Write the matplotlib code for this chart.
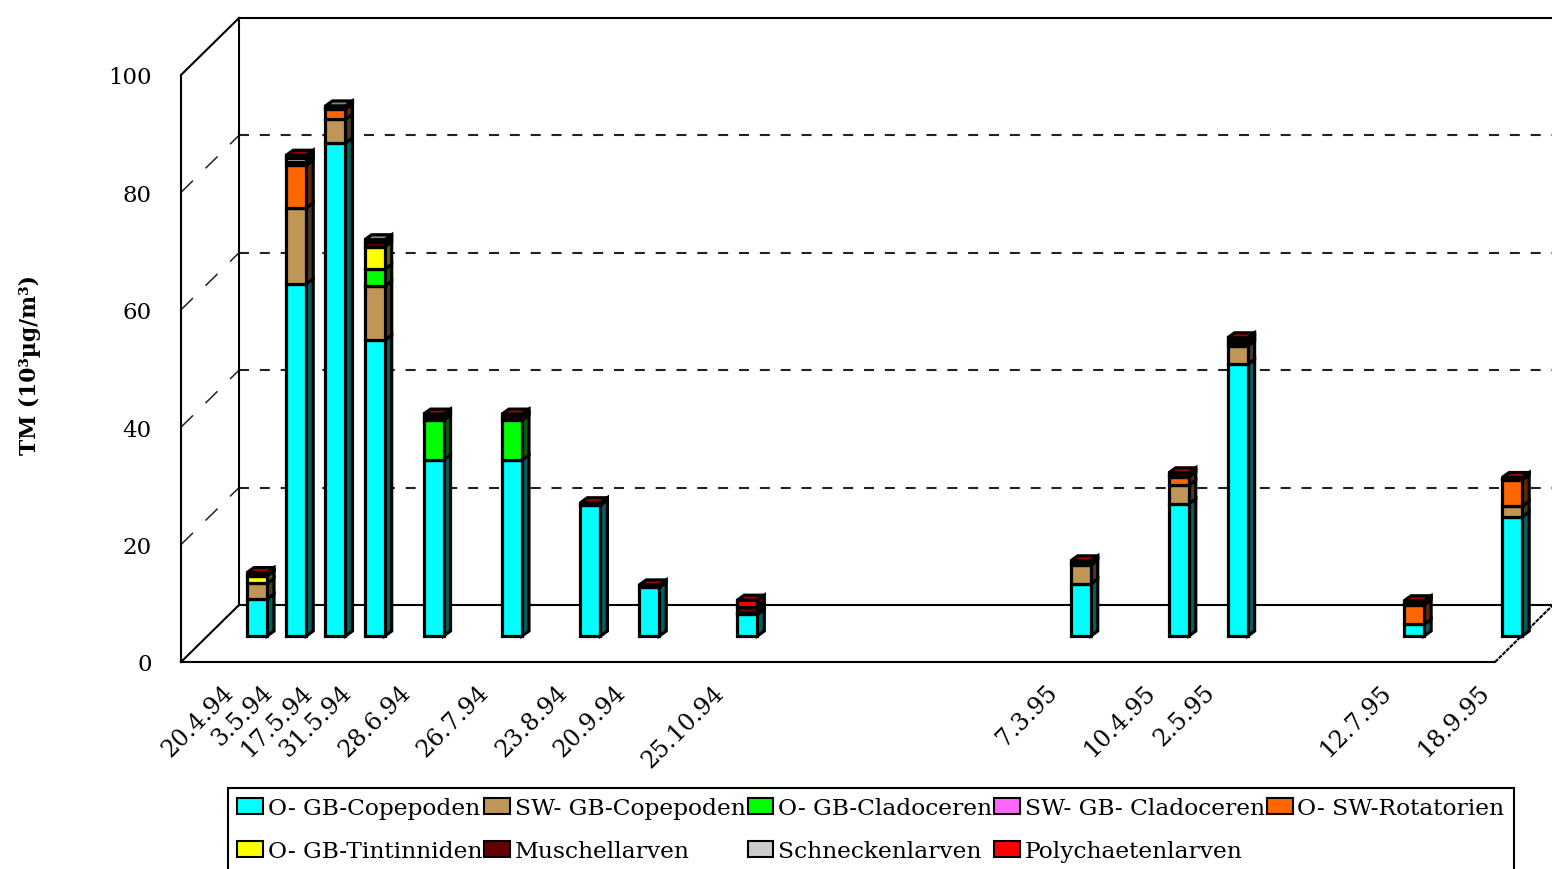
import numpy as np
import matplotlib
matplotlib.use("Agg")
import matplotlib.pyplot as plt
from matplotlib.colors import to_rgb
from matplotlib.patches import Patch, Polygon
from matplotlib.transforms import Affine2D

plt.rcParams["font.family"] = ["DejaVu Serif"]

# sampling dates, placed on the slots of the chart's category axis
dates = ["20.4.94", "3.5.94", "17.5.94", "31.5.94", "28.6.94", "26.7.94", "23.8.94",
         "20.9.94", "25.10.94", "7.3.95", "10.4.95", "2.5.95", "12.7.95", "18.9.95"]
slots = [2, 4, 6, 8, 11, 15, 19, 22, 27, 44, 49, 52, 61, 66]
n_slots = 67

names = ["O- GB-Copepoden", "SW- GB-Copepoden", "O- GB-Cladoceren", "SW- GB- Cladoceren",
         "O- SW-Rotatorien", "O- GB-Tintinniden", "Muschellarven", "Schneckenlarven",
         "Polychaetenlarven"]
colors = ["#00FFFF", "#BF9655", "#00FF00", "#FF66FF", "#FF6600", "#FFFF00", "#660000",
          "#CCCCCC", "#FF0000"]

o_copepoden = [6.3, 60, 84, 50.4, 30, 30, 22.3, 8.3, 3.7, 8.9, 22.5, 46.3, 2, 20.3]
sw_copepoden = [2.7, 12.9, 4, 9.2, 0, 0, 0, 0, 0.3, 3.2, 3.2, 3.1, 0, 1.8]
o_cladoceren = [0, 0, 0, 2.9, 6.8, 6.8, 0, 0, 0, 0, 0, 0, 0, 0]
sw_cladoceren = [0, 0, 0, 0, 0, 0, 0, 0, 0, 0, 0, 0, 0, 0]
rotatorien = [0, 7.3, 1.8, 0, 0, 0, 0, 0, 0, 0, 1.4, 0, 3.3, 4.5]
tintinniden = [1.2, 0, 0, 3.8, 0, 0, 0, 0, 0, 0, 0, 0, 0, 0]
muschel = [0.2, 0.6, 0.3, 0.8, 0.5, 0.5, 0, 0, 1.0, 0.4, 0.4, 0.5, 0.4, 0.2]
schnecken = [0, 0.6, 0.2, 0.4, 0, 0, 0, 0, 0, 0, 0, 0.5, 0, 0]
polychaeten = [0.4, 0.5, 0, 0, 0.5, 0.5, 0.4, 0.4, 1.1, 0.3, 0.3, 0.4, 0.3, 0.2]
series = [o_copepoden, sw_copepoden, o_cladoceren, sw_cladoceren, rotatorien,
          tintinniden, muschel, schnecken, polychaeten]

W, H = 1552, 870
WALL = 58     # depth of the fake 3d box, px
ROW = 26      # how far the bars sit behind the front plane, px
DEPTH_X = 7   # depth of one bar, px
DEPTH_Y = 5
LW = 2.3

fig = plt.figure(figsize=(W / 100, H / 100), dpi=100)
ax = fig.add_axes([181 / W, 1 - 663 / H, 1314 / W, 587 / H])
ax.set_xlim(0, n_slots)
ax.set_ylim(0, 100)
ax.patch.set_alpha(0)
for s in ["top", "right"]:
    ax.spines[s].set_visible(False)
for s in ["left", "bottom"]:
    ax.spines[s].set_linewidth(1.5)


def shifted(dx, dy):
    return ax.transData + Affine2D().translate(dx, dy)


def box_face(x0, x1, y0, y1, off0, off1, side):
    # side face goes up the depth at x1, top face along y1
    t = ax.transData
    if side:
        a, b = t.transform([(x1, y0), (x1, y1)])
        pts = [a + off0, a + off1, b + off1, b + off0]
    else:
        a, b = t.transform([(x0, y1), (x1, y1)])
        pts = [a + off0, b + off0, b + off1, a + off1]
    return pts


# walls and floor
back = shifted(WALL, WALL - 1)
ax.plot([0, n_slots], [100, 100], color="black", lw=1.5, transform=back, clip_on=False)
ax.plot([0, n_slots], [0, 0], color="black", lw=1.5, transform=back, clip_on=False, zorder=1)
ax.plot([0, 0], [0, 100], color="black", lw=1.5, transform=back, clip_on=False)
for v in [20, 40, 60, 80]:
    ax.plot([0, n_slots], [v, v], color="#222222", lw=1.5, dashes=(4.8, 5.2),
            transform=back, clip_on=False, zorder=1)
    a = ax.transData.transform((0, v))
    ax.plot([a[0], a[0] + WALL], [a[1], a[1] + WALL - 1], color="#222222", lw=1.1, dashes=(11, 11.5),
            transform=None, clip_on=False, zorder=1)
for v, x in [(0, 0), (100, 0)]:
    a = ax.transData.transform((x, v))
    ax.plot([a[0], a[0] + WALL], [a[1], a[1] + WALL - 1], color="black", lw=1.5,
            transform=None, clip_on=False)
a = ax.transData.transform((n_slots, 0))
ax.plot([a[0], a[0] + WALL], [a[1], a[1] + WALL - 1], color="black", lw=1.5, dashes=(2, 0.5),
        transform=None, clip_on=False, zorder=1)

# stacked bars
xpos = np.array(slots) + 0.55
width = 1.02
bottom = np.zeros(len(dates))
front = shifted(ROW, ROW)
off0, off1 = np.array([ROW, ROW]), np.array([ROW + DEPTH_X, ROW + DEPTH_Y])
totals = np.sum(series, axis=0)
for vals, col in zip(series, colors):
    vals = np.array(vals, dtype=float)
    rgb = np.array(to_rgb(col))
    for i, v in enumerate(vals):
        if v <= 0:
            continue
        x0, x1 = xpos[i] - width / 2, xpos[i] + width / 2
        y0, y1 = bottom[i], bottom[i] + v
        ax.bar(xpos[i], v, width, bottom=y0, color=col, edgecolor="black", linewidth=LW,
               transform=front, clip_on=False, zorder=5)
        ax.add_patch(Polygon(box_face(x0, x1, y0, y1, off0, off1, True), closed=True,
                             facecolor=rgb * 0.38, edgecolor="black", linewidth=LW,
                             transform=None, clip_on=False, zorder=4))
        if abs(y1 - totals[i]) < 1e-6:
            ax.add_patch(Polygon(box_face(x0, x1, y0, y1, off0, off1, False), closed=True,
                                 facecolor=rgb * 0.65, edgecolor="black", linewidth=LW,
                                 transform=None, clip_on=False, zorder=4))
    bottom += vals

ax.set_xlim(0, n_slots)
ax.set_ylim(0, 100)
ax.set_yticks([0, 20, 40, 60, 80, 100])
ax.set_xticks(xpos)
ax.set_xticklabels(dates, rotation=45, ha="right", va="top", rotation_mode="anchor")
ax.tick_params(axis="y", length=0, pad=21, labelsize=16.5)
ax.tick_params(axis="x", length=0, pad=13, labelsize=17)
for lab in ax.get_xticklabels():
    lab.set_transform(lab.get_transform() + Affine2D().translate(-9, 0))

fig.text(30 / W, 1 - 365 / H, "TM (10³µg/m³)", rotation=90, fontsize=15.7, fontweight="bold",
         ha="center", va="center")

handles = [Patch(facecolor=c, edgecolor="black", linewidth=1.5) for c in colors]
# matplotlib fills legend columns first, so pair up the two rows
order = [0, 5, 1, 6, 2, 7, 3, 8, 4]
leg = fig.legend([handles[i] for i in order], [names[i] for i in order], ncol=5,
                 loc="upper left", bbox_to_anchor=(228 / W, 1 - 789 / H), borderaxespad=0,
                 fontsize=16.8, frameon=True, fancybox=False, edgecolor="black", framealpha=1,
                 handlelength=1.1, handleheight=0.7, handletextpad=0.2, labelspacing=0.9,
                 columnspacing=0.1, borderpad=0.4)
leg.get_frame().set_linewidth(1.5)

fig.savefig("out.png", dpi=100)
